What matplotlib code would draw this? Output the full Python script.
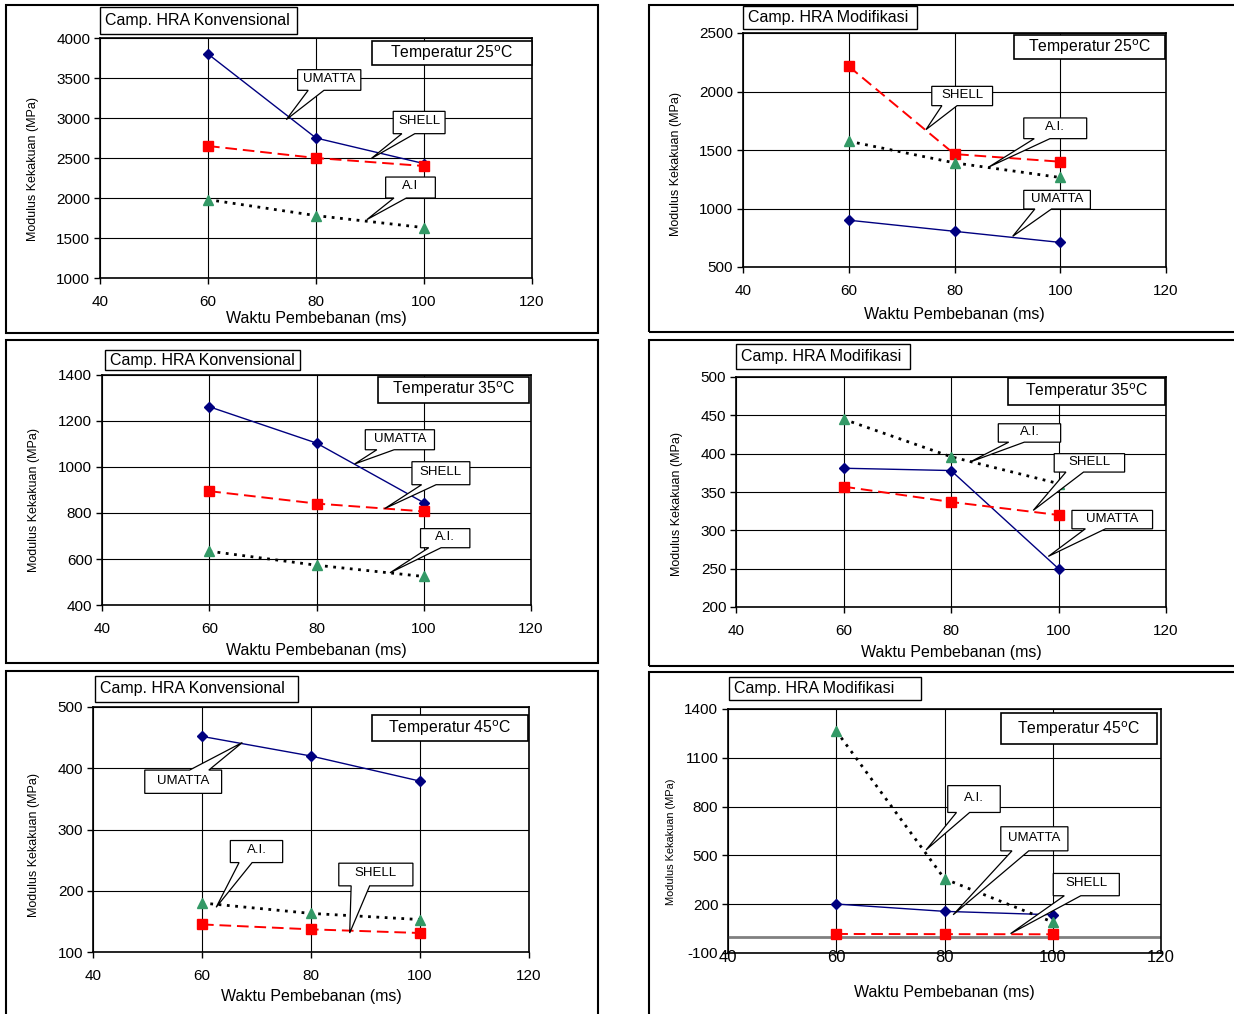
import numpy as np
import matplotlib.pyplot as plt
from matplotlib.patches import Rectangle, Polygon
from matplotlib import font_manager

# data
waktu = [60, 80, 100]
x_ticks = [40, 60, 80, 100, 120]

konv25_umatta = [3800, 2750, 2430]
konv25_shell = [2650, 2500, 2400]
konv25_ai = [1980, 1780, 1630]

mod25_umatta = [900, 805, 710]
mod25_shell = [2215, 1465, 1400]
mod25_ai = [1575, 1390, 1265]

konv35_umatta = [1262, 1104, 845]
konv35_shell = [895, 841, 807]
konv35_ai = [634, 573, 524]

mod35_umatta = [381, 378, 250]
mod35_shell = [357, 337, 320]
mod35_ai = [445, 396, 361]

konv45_umatta = [452, 420, 379]
konv45_shell = [145, 137, 131]
konv45_ai = [180, 163, 153]

mod45_umatta = [201, 156, 135]
mod45_shell = [17, 16, 15]
mod45_ai = [1265, 356, 90]

plt.rcParams['font.family'] = ['Liberation Sans', 'DejaVu Sans']
plt.rcParams['axes.unicode_minus'] = False
names = {f.name for f in font_manager.fontManager.ttflist}
NARROW = 'Liberation Sans Narrow' in names

W, H = 1234, 1014
fig = plt.figure(figsize=(W / 100, H / 100), dpi=100)


def fx(x):
    return x / W


def fy(y):
    return 1 - y / H


def fig_rect(l, t, r, b, lw=1.0, fill=False):
    fig.add_artist(Rectangle((fx(l), fy(b)), (r - l) / W, (b - t) / H,
                             transform=fig.transFigure, fill=fill, fc='white',
                             ec='black', lw=lw, zorder=1))


STYLE = {
    'UMATTA': dict(color='#000080', ls='-', lw=1.0, marker='D', ms=5,
                   mfc='#000080', mec='#000080'),
    'SHELL': dict(color='#FF0000', ls=(0, (6, 3)), lw=1.4, marker='s', ms=6.5,
                  mfc='#FF0000', mec='#FF0000'),
    'A.I.': dict(color='black', ls=(0, (1, 2)), lw=2.0, marker='^', ms=7,
                 mfc='#339966', mec='#339966'),
}


def callout(ax, text, box, tip, fs=9.5):
    # box like an Excel wedgeRectCallout: rectangle + wedge toward tip
    x0, x1, y0, y1 = box
    tr = ax.transData
    X0, Y0 = tr.transform((x0, y0))
    X1, Y1 = tr.transform((x1, y1))
    TX, TY = tr.transform(tip)
    w, h = X1 - X0, Y1 - Y0
    hc, vc = (X0 + X1) / 2, (Y0 + Y1) / 2
    dx, dy = TX - hc, TY - vc
    dq = dx * h / w
    if abs(dy) > abs(dq):
        f1, f2 = (7 / 12, 10 / 12) if dx > 0 else (2 / 12, 5 / 12)
        b1, b2 = X0 + w * f1, X0 + w * f2
        if dy < 0:
            pts = [(X0, Y1), (X1, Y1), (X1, Y0), (b2, Y0), (TX, TY), (b1, Y0), (X0, Y0)]
        else:
            pts = [(X0, Y1), (b1, Y1), (TX, TY), (b2, Y1), (X1, Y1), (X1, Y0), (X0, Y0)]
    else:
        f1, f2 = (7 / 12, 10 / 12) if dy < 0 else (2 / 12, 5 / 12)
        b1, b2 = Y1 - h * f1, Y1 - h * f2
        if dx < 0:
            pts = [(X0, Y1), (X1, Y1), (X1, Y0), (X0, Y0), (X0, b2), (TX, TY), (X0, b1)]
        else:
            pts = [(X0, Y1), (X1, Y1), (X1, b1), (TX, TY), (X1, b2), (X1, Y0), (X0, Y0)]
    pts = ax.transAxes.inverted().transform(pts)
    ax.add_patch(Polygon(pts, closed=True, transform=ax.transAxes, fc='white',
                         ec='black', lw=0.9, zorder=6, clip_on=False))
    ax.text((x0 + x1) / 2, y1 - (y1 - y0) * 0.45, text, ha='center', va='center',
            fontsize=fs, zorder=7)


panels = [
    dict(group='Camp. HRA Konvensional', temp='25',
         series=[('UMATTA', konv25_umatta), ('SHELL', konv25_shell), ('A.I.', konv25_ai)],
         ylim=(1000, 4000), yticks=np.arange(1000, 4001, 500),
         ax_px=(100, 38, 532, 278), frame_px=(6, 5, 598, 333), title_px=(100, 7, 297, 34),
         temp_box=(0.629, 0.886, 0.999, 0.988), xlab_y=318, ylab=(33, 169, 1.0), xpad=8,
         callouts=[('UMATTA', (76.6, 88.3, 3346, 3604), (74.5, 2980)),
                   ('SHELL', (94.3, 103.9, 2804, 3083), (90.2, 2492)),
                   ('A.I', (92.9, 102.1, 2000, 2262), (89.4, 1729))]),
    dict(group='Camp. HRA Modifikasi', temp='25',
         series=[('UMATTA', mod25_umatta), ('SHELL', mod25_shell), ('A.I.', mod25_ai)],
         ylim=(500, 2500), yticks=np.arange(500, 2501, 500),
         ax_px=(743, 33, 1166, 267), frame_px=(649, 5, 1245, 332), title_px=(743, 6, 917, 29),
         temp_box=(0.641, 0.889, 0.997, 0.99), xlab_y=315, ylab=(676, 164, 1.0), xpad=8,
         callouts=[('SHELL', (75.7, 87.2, 1879, 2044), (74.6, 1674)),
                   ('A.I.', (93.1, 105.0, 1597, 1774), (86.5, 1355)),
                   ('UMATTA', (93.1, 105.7, 996, 1155), (91.0, 762))]),
    dict(group='Camp. HRA Konvensional', temp='35',
         series=[('UMATTA', konv35_umatta), ('SHELL', konv35_shell), ('A.I.', konv35_ai)],
         ylim=(400, 1400), yticks=np.arange(400, 1401, 200),
         ax_px=(102, 375, 531, 605), frame_px=(6, 340, 598, 663), title_px=(105, 350, 300, 370),
         temp_box=(0.643, 0.88, 0.996, 0.993), xlab_y=650, ylab=(34, 500, 1.0), xpad=8,
         callouts=[('UMATTA', (89.1, 102.0, 1075, 1162), (87.1, 1013)),
                   ('SHELL', (97.8, 108.6, 923, 1023), (92.7, 819)),
                   ('A.I.', (99.4, 108.6, 649, 732), (93.7, 540))]),
    dict(group='Camp. HRA Modifikasi', temp='35',
         series=[('UMATTA', mod35_umatta), ('SHELL', mod35_shell), ('A.I.', mod35_ai)],
         ylim=(200, 500), yticks=np.arange(200, 501, 50),
         ax_px=(736, 377, 1166, 607), frame_px=(649, 340, 1245, 666), title_px=(736, 344, 910, 369),
         temp_box=(0.632, 0.877, 0.998, 0.996), xlab_y=652, ylab=(677, 504, 1.0), xpad=8,
         callouts=[('A.I.', (88.8, 100.4, 415, 439), (83.5, 389)),
                   ('SHELL', (99.2, 112.3, 376, 400), (95.3, 326)),
                   ('UMATTA', (102.5, 117.5, 302, 326), (98.1, 266))]),
    dict(group='Camp. HRA Konvensional', temp='45',
         series=[('UMATTA', konv45_umatta), ('SHELL', konv45_shell), ('A.I.', konv45_ai)],
         ylim=(100, 500), yticks=np.arange(100, 501, 100),
         ax_px=(93, 707, 529, 952), frame_px=(6, 671, 598, 1030), title_px=(95, 676, 298, 702),
         temp_box=(0.641, 0.86, 0.997, 0.966), xlab_y=996, ylab=(34, 845, 1.0), xpad=8,
         callouts=[('UMATTA', (49.5, 63.6, 359, 397), (67.4, 442)),
                   ('A.I.', (65.2, 74.8, 246, 282), (62.6, 173)),
                   ('SHELL', (85.1, 98.7, 208, 245), (87.1, 131))]),
    dict(group='Camp. HRA Modifikasi', temp='45',
         series=[('UMATTA', mod45_umatta), ('SHELL', mod45_shell), ('A.I.', mod45_ai)],
         ylim=(-100, 1400), yticks=np.arange(-100, 1401, 300),
         ax_px=(728, 709, 1161, 953), frame_px=(649, 672, 1245, 1030), title_px=(729, 677, 921, 700),
         temp_box=(0.63, 0.855, 0.99, 0.982), xlab_y=993, ylab=(671, 842, 0.88), xpad=-2,
         callouts=[('A.I.', (80.6, 90.3, 764, 929), (76.6, 534)),
                   ('UMATTA', (90.4, 102.8, 528, 676), (81.6, 135)),
                   ('SHELL', (100.1, 112.3, 252, 389), (92.2, 19))]),
]

for p in panels:
    fig_rect(*p['frame_px'], lw=1.5)
    l, t, r, b = p['title_px']
    fig_rect(l, t, r, b, lw=1.0, fill=True)
    fig.text(fx(l + 5), fy((t + b) / 2), p['group'], ha='left', va='center', fontsize=11.5)

    l, t, r, b = p['ax_px']
    ax = fig.add_axes([fx(l), fy(b), (r - l) / W, (b - t) / H])
    for name, vals in p['series']:
        ax.plot(waktu, vals, zorder=3, clip_on=False, **STYLE[name])
    ax.set_xlim(40, 120)
    ax.set_xticks(x_ticks)
    ax.set_ylim(*p['ylim'])
    ax.set_yticks(p['yticks'])
    ax.grid(True, color='black', lw=0.8)
    ax.set_axisbelow(True)
    ax.tick_params(direction='out', length=4, width=1, labelsize=11)
    ax.tick_params(axis='y', pad=3)
    ax.tick_params(axis='x', pad=p['xpad'])
    for s in ax.spines.values():
        s.set_linewidth(1.2)
    if p['ylim'][0] < 0:
        ax.axhline(0, color='#808080', lw=2, zorder=2)
        ax.tick_params(axis='x', length=0, labelsize=12)

    fig.text(fx((l + r) / 2), fy(p['xlab_y']), 'Waktu Pembebanan (ms)',
             ha='center', va='center', fontsize=11.5)
    yx, yy, scale = p['ylab']
    if NARROW:
        fig.text(fx(yx), fy(yy), 'Modulus Kekakuan (MPa)', rotation=90, ha='center',
                 va='center', fontsize=11 * scale, family='Liberation Sans Narrow')
    else:
        fig.text(fx(yx), fy(yy), 'Modulus Kekakuan (MPa)', rotation=90, ha='center',
                 va='center', fontsize=9 * scale)

    tx0, ty0, tx1, ty1 = p['temp_box']
    ax.add_patch(Rectangle((tx0, ty0), tx1 - tx0, ty1 - ty0, transform=ax.transAxes,
                           fc='white', ec='black', lw=1.2, zorder=5, clip_on=False))
    ax.text((tx0 + tx1) / 2, (ty0 + ty1) / 2, 'Temperatur ' + p['temp'] + r'$^{\mathrm{o}}$C',
            transform=ax.transAxes, ha='center', va='center', fontsize=11.3, zorder=6)

    for text, box, tip in p['callouts']:
        callout(ax, text, box, tip)

fig.savefig('out.png', dpi=100)
